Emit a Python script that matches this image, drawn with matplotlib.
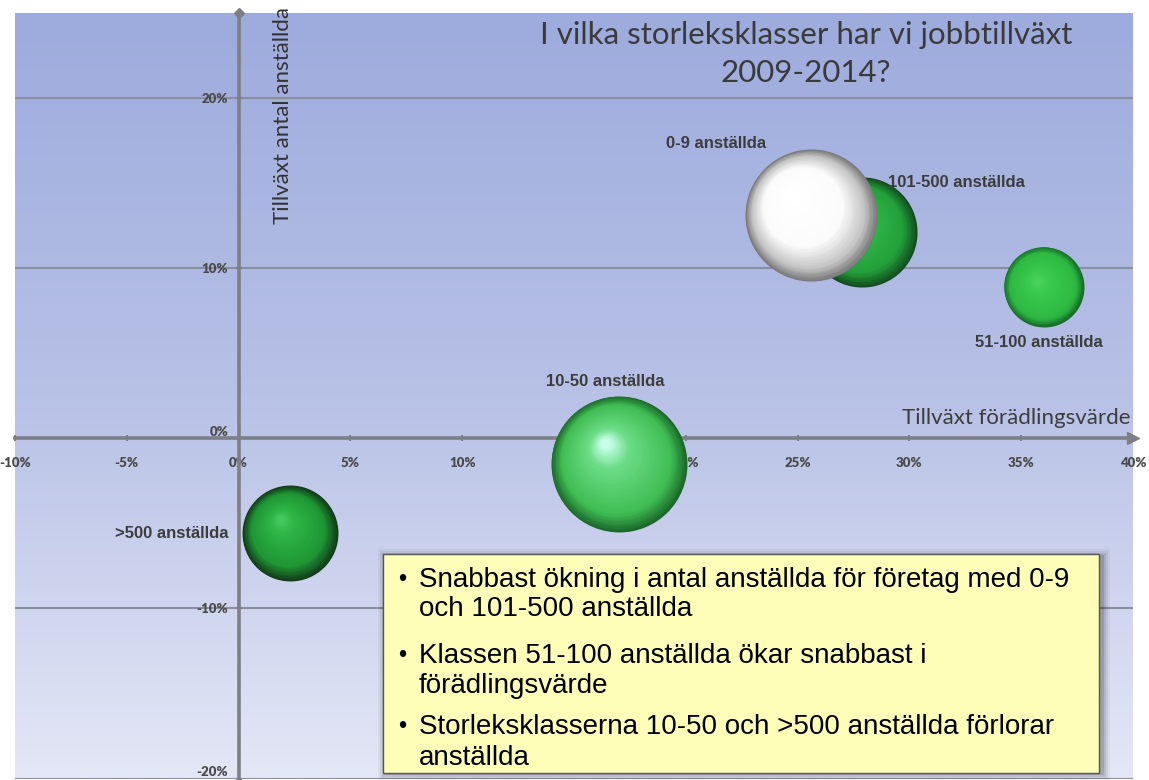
import numpy as np
import matplotlib
matplotlib.use("Agg")
import matplotlib.pyplot as plt
from matplotlib import transforms
from matplotlib.patches import Rectangle
from matplotlib.colors import to_rgb

# ---------------- data ----------------
categories = ["0-9 anställda", "10-50 anställda", "51-100 anställda",
              "101-500 anställda", ">500 anställda"]
x_growth_value = [25.6, 17.0, 36.0, 27.9, 2.3]      # Tillväxt förädlingsvärde, %
y_growth_jobs = [13.1, -1.5, 8.9, 12.1, -5.6]        # Tillväxt antal anställda, %
bubble_size = [4.36, 4.62, 1.60, 3.03, 2.30]         # relative bubble area

x_ticks = [-10, -5, 0, 5, 10, 15, 20, 25, 30, 35, 40]
y_ticks = [-20, -10, 0, 10, 20]

title_lines = ["I vilka storleksklasser har vi jobbtillväxt", "2009-2014?"]
x_title = "Tillväxt förädlingsvärde"
y_title = "Tillväxt antal anställda"
bullets = [
    ["Snabbast ökning i antal anställda för företag med 0-9", "och 101-500 anställda"],
    ["Klassen 51-100 anställda ökar snabbast i", "förädlingsvärde"],
    ["Storleksklasserna 10-50 och >500 anställda förlorar", "anställda"],
]

# ---------------- style ----------------
W, H, DPI = 1149, 780, 100
fig = plt.figure(figsize=(W / DPI, H / DPI), dpi=DPI, facecolor="white")
ax = fig.add_axes([15 / W, 1.5 / H, (1133 - 15) / W, (780 - 12.5 - 1.5) / H])

# background gradient
top_c = np.array(to_rgb("#9dabdd"))
mid_c = np.array(to_rgb("#b8c1e6"))
bot_c = np.array(to_rgb("#e4e7f6"))
t = np.linspace(0, 1, 256)
grad = np.where(t[:, None] < 0.5,
                top_c * (1 - 2 * t[:, None]) + mid_c * (2 * t[:, None]),
                mid_c * (2 - 2 * t[:, None]) + bot_c * (2 * t[:, None] - 1))
grad = np.repeat(grad[:, None, :], 2, axis=1)
ax.imshow(grad, extent=[0, 1, 0, 1], transform=ax.transAxes, aspect="auto", zorder=0)
ax.set_xlim(-10, 40)
ax.set_ylim(-20, 25)

axis_col = "#7d7f86"
for s in ["top", "right"]:
    ax.spines[s].set_visible(False)
ax.spines["left"].set_position(("data", 0))
ax.spines["bottom"].set_position(("data", 0))
for s in ["left", "bottom"]:
    ax.spines[s].set_color(axis_col)
    ax.spines[s].set_linewidth(2.6)
    ax.spines[s].set_zorder(2)

ax.set_xticks(x_ticks)
ax.set_xticklabels([f"{v}%" for v in x_ticks])
ax.set_yticks(y_ticks)
ax.set_yticklabels([f"{v}%" for v in y_ticks])
ax.tick_params(axis="x", direction="inout", length=5, width=1.5, color=axis_col, pad=11,
               labelsize=9.5, labelcolor="#4a4a4a")
ax.tick_params(axis="y", direction="inout", length=5, width=1.5, color=axis_col, pad=5,
               labelsize=9.5, labelcolor="#4a4a4a")
for lab in ax.get_xticklabels() + ax.get_yticklabels():
    lab.set_family("Lato")
    lab.set_fontweight("heavy")
for v, lab in zip(y_ticks, ax.get_yticklabels()):
    if v in (0, -20):
        lab.set_va("bottom")

ax.grid(axis="y", color="#8a8f9c", lw=1.5, zorder=1)
ax.set_axisbelow(True)

# arrow at x-axis end, knob at y-axis top
ax.plot([1], [0], marker=">", ms=9, color=axis_col, transform=ax.get_yaxis_transform(),
        clip_on=False, zorder=2)
ax.plot([0], [1], marker="D", ms=5, color=axis_col, transform=ax.get_xaxis_transform(),
        clip_on=False, zorder=2)

# ---------------- bubbles ----------------
sphere_styles = {
    "0-9 anställda": ([(0, "#7a7a7a"), (0.15, "#c4c4c4"), (0.42, "#fbfbfb"), (1, "#ffffff")], (-0.3, 0.3)),
    "10-50 anställda": ([(0, "#1c6a2b"), (0.2, "#3fbd53"), (0.75, "#6cdd87"), (1, "#c8ffec")], (-0.2, 0.3)),
    "51-100 anställda": ([(0, "#176f2a"), (0.18, "#2db842"), (0.8, "#3acb4f"), (1, "#48d25c")], (-0.15, 0.15)),
    "101-500 anställda": ([(0, "#124a1e"), (0.22, "#23a03a"), (0.8, "#34bd4a"), (1, "#3fc856")], (-0.28, 0.25)),
    ">500 anställda": ([(0, "#123a18"), (0.25, "#1f9634"), (0.8, "#2eb646"), (1, "#44c85b")], (-0.2, 0.3)),
}


def stop_color(stops, tt):
    for (t0, c0), (t1, c1) in zip(stops[:-1], stops[1:]):
        if t0 <= tt <= t1:
            f = 0 if t1 == t0 else (tt - t0) / (t1 - t0)
            return tuple(np.array(to_rgb(c0)) * (1 - f) + np.array(to_rgb(c1)) * f)
    return to_rgb(stops[-1][1])


def draw_sphere(x, y, r_px, stops, hl, z):
    n = 50
    for i in range(n):
        tt = i / (n - 1)
        rr = r_px * (1 - 0.93 * tt)
        dx = hl[0] * r_px * tt
        dy = hl[1] * r_px * tt
        tr = ax.transData + transforms.ScaledTranslation(dx / DPI, dy / DPI, fig.dpi_scale_trans)
        ax.scatter([x], [y], s=(2 * rr * 72 / DPI) ** 2, color=[stop_color(stops, tt)],
                   transform=tr, zorder=z, linewidths=0)


draw_order = [3, 4, 1, 2, 0]  # 0-9 is drawn on top of 101-500
for k, i in enumerate(draw_order):
    r_px = np.sqrt(bubble_size[i] * 1000)
    stops, hl = sphere_styles[categories[i]]
    draw_sphere(x_growth_value[i], y_growth_jobs[i], r_px, stops, hl, 3 + k)

label_offsets = {
    "0-9 anställda": ((-95, 72), "center"),
    "10-50 anställda": ((-13, 82), "center"),
    "51-100 anställda": ((-5, -56), "center"),
    "101-500 anställda": ((26, 50), "left"),
    ">500 anställda": ((-62, 0), "right"),
}
for i, name in enumerate(categories):
    off, ha = label_offsets[name]
    ax.annotate(name, (x_growth_value[i], y_growth_jobs[i]), xytext=off,
                textcoords="offset pixels", ha=ha, va="center", fontsize=12,
                fontweight="bold", color="#3c3c3c", family="Liberation Sans", zorder=20)

# ---------------- titles ----------------
fig.text(806 / W, 1 - 35 / H, title_lines[0], ha="center", va="center", fontsize=22.5,
         family="Lato", color="#3a3a3a")
fig.text(806 / W, 1 - 73 / H, title_lines[1], ha="center", va="center", fontsize=22.5,
         family="Lato", color="#3a3a3a")
fig.text(283 / W, 1 - 7 / H, y_title, rotation=90, ha="center", va="top", fontsize=16,
         family="Lato", color="#333333")
fig.text(1131 / W, 1 - 418 / H, x_title, ha="right", va="center", fontsize=16,
         family="Lato", color="#3d3d3d")

# ---------------- text box ----------------
bx0, by0, bx1, by1 = 383, 554, 1099, 773
for k, a in enumerate([0.12, 0.09, 0.06, 0.04]):
    o = 2 + 2 * k
    fig.patches.append(Rectangle(((bx0 - o + 3) / W, 1 - (by1 + o) / H),
                                 (bx1 - bx0 + 2 * o) / W, (by1 - by0 + 2 * o - 3) / H,
                                 transform=fig.transFigure, facecolor="black", alpha=a,
                                 edgecolor="none", zorder=30))
fig.patches.append(Rectangle((bx0 / W, 1 - by1 / H), (bx1 - bx0) / W, (by1 - by0) / H,
                             transform=fig.transFigure, facecolor="#fefeb8",
                             edgecolor="#555555", lw=1.0, zorder=31))
line_y = [[580, 609], [656, 686], [727, 758]]
for b, ys in zip(bullets, line_y):
    fig.text(402 / W, 1 - ys[0] / H, "•", ha="center", va="center", fontsize=17,
             family="Liberation Sans", color="black", zorder=32)
    for txt, yy in zip(b, ys):
        fig.text(419 / W, 1 - yy / H, txt, ha="left", va="center", fontsize=20,
                 family="Liberation Sans", color="black", zorder=32)

fig.savefig("out.png", dpi=DPI, facecolor="white")
